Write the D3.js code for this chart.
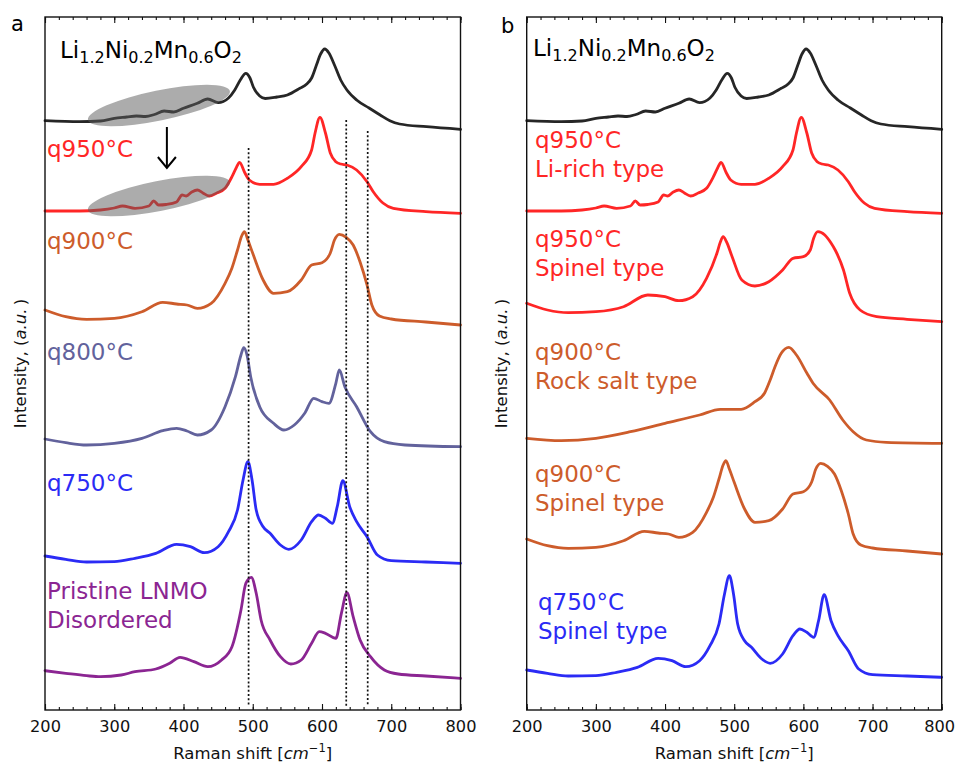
<!DOCTYPE html>
<html>
<head>
<meta charset="utf-8">
<script src="https://cdn.jsdelivr.net/npm/d3@7"></script>
<style>
  body { margin: 0; background: #fff; }
  svg text { font-family: "DejaVu Sans", Verdana, sans-serif; }
</style>
</head>
<body>
<svg id="fig" width="956" height="762"></svg>
<script>
// Raman spectra, [shift (cm^-1), intensity (a.u., stacked)]
const specLiRich = [[200,5.893],[250,5.883],[280,5.89],[300,5.917],[318,5.93],[332,5.94],[345,5.935],[358,5.955],[372,5.99],[386,5.98],[400,6.017],[420,6.067],[435,6.11],[450,6.073],[465,6.12],[474,6.2],[482,6.3],[490,6.367],[496,6.32],[501,6.227],[510,6.14],[518,6.115],[535,6.13],[550,6.15],[568,6.217],[578,6.26],[585,6.32],[592,6.45],[598,6.56],[604,6.61],[610,6.57],[618,6.45],[627,6.3],[636,6.2],[650,6.1],[668,6.02],[684,5.95],[698,5.893],[712,5.86],[751,5.833],[800,5.807]];
const specQ950LiRich = [[200,4.99],[250,4.99],[280,5.0],[300,5.02],[312,5.04],[330,5.017],[350,5.04],[357,5.09],[364,5.05],[375,5.055],[390,5.08],[398,5.15],[404,5.14],[412,5.18],[420,5.20],[428,5.17],[437,5.14],[448,5.17],[460,5.217],[470,5.333],[476,5.42],[481,5.477],[488,5.38],[495,5.3],[510,5.257],[530,5.257],[550,5.317],[570,5.433],[585,5.6],[590,5.77],[597,5.927],[605,5.77],[612,5.57],[620,5.483],[627,5.46],[636,5.45],[650,5.40],[665,5.283],[674,5.183],[688,5.07],[703,5.017],[750,4.983],[800,4.967]];
const specQ900Spinel = [[200,4.0],[230,3.933],[260,3.907],[300,3.917],[340,3.983],[370,4.077],[390,4.06],[405,4.05],[420,4.017],[440,4.067],[460,4.267],[470,4.42],[478,4.6],[484,4.74],[488,4.783],[493,4.70],[500,4.567],[515,4.3],[530,4.167],[550,4.183],[570,4.3],[585,4.45],[600,4.473],[612,4.57],[618,4.70],[625,4.757],[635,4.727],[645,4.65],[655,4.48],[665,4.25],[672,4.05],[683,3.94],[700,3.91],[750,3.88],[800,3.85]];
const specQ800 = [[200,2.71],[230,2.673],[260,2.65],[300,2.667],[340,2.717],[370,2.793],[390,2.817],[405,2.79],[420,2.75],[440,2.80],[460,3.033],[475,3.333],[483,3.55],[487,3.623],[492,3.54],[497,3.333],[510,3.033],[530,2.867],[545,2.80],[560,2.85],[575,2.967],[588,3.117],[600,3.083],[610,3.067],[620,3.267],[625,3.40],[633,3.233],[650,3.033],[670,2.783],[690,2.683],[720,2.65],[800,2.633]];
const specQ750 = [[200,1.54],[230,1.507],[260,1.48],[300,1.483],[330,1.517],[360,1.567],[390,1.657],[410,1.633],[430,1.573],[450,1.633],[465,1.783],[478,2.0],[486,2.30],[493,2.483],[499,2.30],[505,2.0],[515,1.833],[525,1.767],[540,1.65],[552,1.607],[570,1.70],[585,1.883],[595,1.95],[605,1.917],[615,1.867],[622,2.033],[630,2.293],[640,2.033],[650,1.883],[665,1.733],[680,1.55],[700,1.493],[750,1.48],[800,1.467]];
const specPristine = [[200,0.393],[230,0.367],[260,0.343],[280,0.333],[310,0.35],[330,0.383],[360,0.41],[380,0.467],[395,0.527],[415,0.483],[435,0.433],[455,0.50],[470,0.633],[483,1.00],[490,1.267],[498,1.327],[505,1.167],[512,0.90],[525,0.70],[540,0.533],[555,0.46],[570,0.50],[585,0.667],[596,0.783],[605,0.767],[620,0.717],[628,0.967],[636,1.173],[645,0.933],[655,0.70],[670,0.533],[690,0.40],[710,0.36],[750,0.34],[800,0.317]];
const specQ950Spinel = [[200,4.067],[230,4.0],[260,3.973],[300,3.983],[340,4.033],[375,4.15],[400,4.133],[420,4.093],[440,4.133],[460,4.317],[475,4.567],[480,4.68],[484,4.733],[489,4.68],[497,4.533],[511,4.30],[530,4.24],[550,4.283],[570,4.40],[585,4.517],[600,4.533],[610,4.60],[615,4.72],[621,4.783],[631,4.75],[640,4.67],[646,4.60],[658,4.40],[667,4.167],[682,4.00],[706,3.933],[750,3.907],[800,3.883]];
const specQ900RockSalt = [[200,2.717],[250,2.693],[300,2.717],[350,2.783],[400,2.867],[450,2.95],[480,3.007],[510,3.007],[530,3.083],[544,3.17],[552,3.30],[559,3.433],[568,3.567],[579,3.627],[590,3.55],[605,3.37],[614,3.267],[638,3.10],[657,2.90],[672,2.783],[691,2.70],[720,2.677],[800,2.667]];

// vertical offsets applied when a spectrum is re-stacked in panel b
const offsetQ750B = -1.14;
const offsetQ900SpinelB = -2.29;

// reference band positions (cm^-1) and the heights the guides reach (a.u.)
const guideShifts = [494, 635, 666];
const guideTops = [5.62, 5.90, 5.79];

// axis ticks
const majorTicks = [200, 300, 400, 500, 600, 700, 800];
const minorTicks = d3.range(200, 801, 20);

const C = {
  black: "#262626", red: "#ff2626", orange: "#cd5c2b",
  slate: "#62629c", blue: "#2b2bf5", purple: "#8b2592"
};

const svg = d3.select("#fig");
const yTop = 17, yBot = 710;
const y = d3.scaleLinear().domain([0, 6.93]).range([yBot, yTop]);

function withOffset(spec, off) { return spec.map(d => [d[0], d[1] + off]); }

function drawPanel(x0, x1, letter, letterPos, yLabelX, series, labels, formulaPos) {
  const x = d3.scaleLinear().domain([200, 800]).range([x0, x1]);
  const g = svg.append("g");

  const line = d3.line().x(d => x(d[0])).y(d => y(d[1])).curve(d3.curveMonotoneX);

  series.forEach(s => {
    g.append("path").attr("d", line(s.data)).attr("fill", "none")
      .attr("stroke", s.color).attr("stroke-width", 2.8)
      .attr("stroke-linejoin", "round").attr("stroke-linecap", "round");
  });

  // axes: minor + major ticks pointing inward on bottom and top
  const gb = g.append("g").attr("transform", `translate(0,${yBot})`);
  gb.call(d3.axisBottom(x).tickValues(minorTicks).tickSize(-3).tickFormat(""));
  gb.append("g").call(d3.axisBottom(x).tickValues(majorTicks).tickSize(-6).tickPadding(10).tickFormat(d3.format("d")));
  const gt = g.append("g").attr("transform", `translate(0,${yTop})`);
  gt.call(d3.axisTop(x).tickValues(minorTicks).tickSize(-3).tickFormat(""));
  gt.append("g").call(d3.axisTop(x).tickValues(majorTicks).tickSize(-6).tickFormat(""));
  g.selectAll(".domain").remove();
  g.selectAll(".tick line").attr("stroke", "#111").attr("stroke-width", 1.1);
  gb.selectAll(".tick text").attr("font-size", 16.2).attr("fill", "#111");

  g.append("rect").attr("x", x0).attr("y", yTop).attr("width", x1 - x0).attr("height", yBot - yTop)
    .attr("fill", "none").attr("stroke", "#111").attr("stroke-width", 1.4);

  // x-axis title
  const xt = g.append("text").attr("x", (x0 + x1) / 2).attr("y", 759)
    .attr("text-anchor", "middle").attr("font-size", 16.5).attr("fill", "#111");
  xt.append("tspan").text("Raman shift [");
  xt.append("tspan").attr("font-style", "italic").text("cm");
  xt.append("tspan").attr("font-size", 11.5).attr("dy", -7).text("\u22121");
  xt.append("tspan").attr("dy", 7).text("]");

  // y-axis title
  const yt = g.append("text").attr("transform", `translate(${yLabelX},${(yTop + yBot) / 2}) rotate(-90)`)
    .attr("text-anchor", "middle").attr("font-size", 16.5).attr("fill", "#111");
  yt.append("tspan").text("Intensity, (");
  yt.append("tspan").attr("font-style", "italic").text("a.u.");
  yt.append("tspan").text("\u2009)");

  // panel letter
  svg.append("text").attr("x", letterPos[0]).attr("y", letterPos[1])
    .attr("font-size", 21).attr("fill", "#000").text(letter);

  // composition label
  const ft = g.append("text").attr("x", formulaPos[0]).attr("y", formulaPos[1])
    .attr("font-size", 23).attr("fill", "#000");
  const parts = [["Li", 0], ["1.2", 1], ["Ni", 0], ["0.2", 1], ["Mn", 0], ["0.6", 1], ["O", 0], ["2", 1]];
  let prevSub = 0;
  parts.forEach(p => {
    const sub = p[1];
    ft.append("tspan").attr("font-size", sub ? 16 : 23)
      .attr("dy", sub === prevSub ? 0 : (sub ? 5 : -5)).text(p[0]);
    prevSub = sub;
  });

  // sample labels
  labels.forEach(l => {
    const t = g.append("text").attr("x", l.x).attr("y", l.y).attr("font-size", 23).attr("fill", l.color);
    l.lines.forEach((ln, i) => {
      t.append("tspan").attr("x", l.x).attr("dy", i === 0 ? 0 : 28.7).text(ln);
    });
  });

  return { g, gb, x };
}

// ---------- panel a ----------
const A = drawPanel(45, 460.5, "a", [11, 31], 26,
  [
    { data: specLiRich, color: C.black },
    { data: specQ950LiRich, color: C.red },
    { data: specQ900Spinel, color: C.orange },
    { data: specQ800, color: C.slate },
    { data: specQ750, color: C.blue },
    { data: specPristine, color: C.purple }
  ],
  [
    { x: 47, y: 157, color: C.red, lines: ["q950°C"] },
    { x: 47, y: 249, color: C.orange, lines: ["q900°C"] },
    { x: 47, y: 360, color: C.slate, lines: ["q800°C"] },
    { x: 47, y: 491, color: C.blue, lines: ["q750°C"] },
    { x: 47, y: 599, color: C.purple, lines: ["Pristine LNMO", "Disordered"] }
  ],
  [60, 58]
);

// dotted band guides
guideShifts.forEach((s, i) => {
  A.g.append("line").attr("x1", A.x(s)).attr("x2", A.x(s))
    .attr("y1", y(guideTops[i])).attr("y2", y(0.04))
    .attr("stroke", "#111").attr("stroke-width", 1.7).attr("stroke-dasharray", "2,2.2");
});

// shaded regions over the low-wavenumber features
const shadeBands = [
  { from: [262, 5.90], to: [467, 6.19] },
  { from: [262, 5.00], to: [467, 5.28] }
];
shadeBands.forEach(b => {
  const xa = A.x(b.from[0]), ya = y(b.from[1]), xb = A.x(b.to[0]), yb = y(b.to[1]);
  const cx = (xa + xb) / 2, cy = (ya + yb) / 2;
  const rx = Math.hypot(xb - xa, yb - ya) / 2;
  const ang = Math.atan2(yb - ya, xb - xa) * 180 / Math.PI;
  A.g.append("ellipse").attr("cx", 0).attr("cy", 0).attr("rx", rx).attr("ry", 15)
    .attr("transform", `translate(${cx},${cy}) rotate(${ang})`)
    .attr("fill", "#5a5a5a").attr("fill-opacity", 0.5);
});

// arrow between the shaded regions
const arrowFrom = [376, 5.83], arrowTo = [376, 5.42];
const ax = A.x(arrowFrom[0]), ay1 = y(arrowFrom[1]), ay2 = y(arrowTo[1]);
A.g.append("line").attr("x1", ax).attr("x2", ax).attr("y1", ay1).attr("y2", ay2)
  .attr("stroke", "#000").attr("stroke-width", 2);
A.g.append("path").attr("d", `M${ax - 9},${ay2 - 11} L${ax},${ay2} L${ax + 9},${ay2 - 11}`)
  .attr("fill", "none").attr("stroke", "#000").attr("stroke-width", 2);

// ---------- panel b ----------
const B = drawPanel(526.7, 941.7, "b", [501, 33], 507,
  [
    { data: specLiRich, color: C.black },
    { data: specQ950LiRich, color: C.red },
    { data: specQ950Spinel, color: C.red },
    { data: specQ900RockSalt, color: C.orange },
    { data: withOffset(specQ900Spinel, offsetQ900SpinelB), color: C.orange },
    { data: withOffset(specQ750, offsetQ750B), color: C.blue }
  ],
  [
    { x: 535, y: 148, color: C.red, lines: ["q950°C", "Li-rich type"] },
    { x: 535, y: 247, color: C.red, lines: ["q950°C", "Spinel type"] },
    { x: 535, y: 360, color: C.orange, lines: ["q900°C", "Rock salt type"] },
    { x: 535, y: 482, color: C.orange, lines: ["q900°C", "Spinel type"] },
    { x: 538, y: 610, color: C.blue, lines: ["q750°C", "Spinel type"] }
  ],
  [533, 56]
);
// keep the last tick label of panel b inside the figure edge
B.gb.selectAll(".tick text").filter(d => d === 800).attr("dx", -2.5);
</script>
</body>
</html>
